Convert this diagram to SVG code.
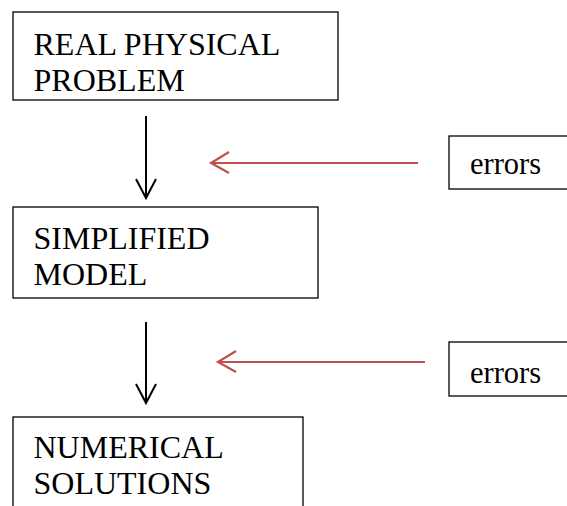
<svg xmlns="http://www.w3.org/2000/svg" width="567" height="506" viewBox="0 0 567 506">
<style>
.box{fill:#fff;stroke:#000;stroke-width:1.3}
.t{font-family:"Liberation Serif","Times New Roman",serif;font-size:32px;fill:#000}
.e{font-family:"Liberation Serif","Times New Roman",serif;font-size:30.5px;fill:#000}
.blk{stroke:#000;stroke-width:2;fill:none}
.red{stroke:#c0504d;stroke-width:2.2;fill:none}
</style>
<rect width="567" height="506" fill="#fff"/>
<g id="real">
<rect class="box" x="13" y="12" width="325" height="88"/>
<text class="t" x="33.5" y="55">REAL PHYSICAL</text>
<text class="t" x="33.5" y="91">PROBLEM</text>
</g>
<g id="simplified">
<rect class="box" x="13" y="207" width="305" height="91"/>
<text class="t" x="33.5" y="248.5">SIMPLIFIED</text>
<text class="t" x="33.5" y="284.5">MODEL</text>
</g>
<g id="numerical">
<rect class="box" x="13" y="417" width="290" height="100"/>
<text class="t" x="33.5" y="457.5">NUMERICAL</text>
<text class="t" x="33.5" y="494">SOLUTIONS</text>
</g>
<g id="errors1">
<rect class="box" x="449" y="136" width="125" height="53"/>
<text class="e" x="470" y="173.5">errors</text>
</g>
<g id="errors2">
<rect class="box" x="449" y="342" width="125" height="54"/>
<text class="e" x="470" y="382.5">errors</text>
</g>
<g id="connectors">
<path class="blk" d="M146 116 V198 M136 179 L146 198 L156 179"/>
<path class="blk" d="M146 322 V403 M136 384 L146 403 L156 384"/>
<path class="red" d="M418 163 H211 M229 152 L211 163 L229 173"/>
<path class="red" d="M425 362 H218 M236 351 L218 362 L236 372"/>
</g>
</svg>
